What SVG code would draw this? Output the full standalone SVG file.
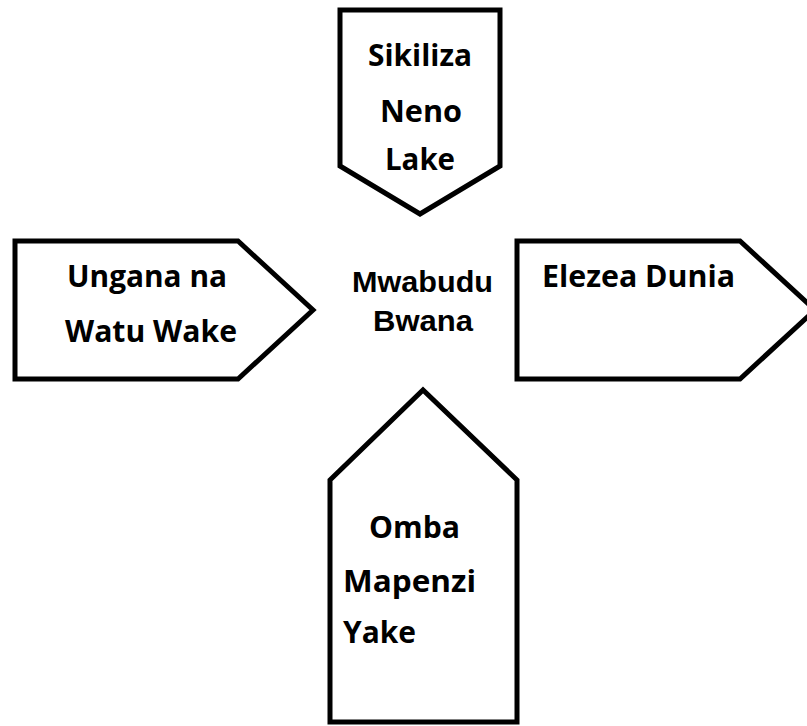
<svg xmlns="http://www.w3.org/2000/svg" width="807" height="726" viewBox="0 0 807 726">
  <style>
    .shape { fill: #ffffff; stroke: #000000; stroke-width: 5; stroke-linejoin: miter; }
    .lbl { font-family: "Open Sans", "Noto Sans", "Liberation Sans", sans-serif; font-weight: bold; font-size: 31px; fill: #000000; }
    .ctr { font-family: "Liberation Sans", Arial, sans-serif; font-weight: bold; font-size: 30px; fill: #000000; }
  </style>
  <rect x="0" y="0" width="807" height="726" fill="#ffffff"/>

  <g id="node-sikiliza">
    <polygon class="shape" points="340,10 500,10 500,166 420,214 340,166"/>
    <text class="lbl" x="368" y="66" textLength="104" lengthAdjust="spacingAndGlyphs">Sikiliza</text>
    <text class="lbl" x="380" y="122" textLength="82" lengthAdjust="spacingAndGlyphs">Neno</text>
    <text class="lbl" x="385" y="170" textLength="70" lengthAdjust="spacingAndGlyphs">Lake</text>
  </g>

  <g id="node-ungana">
    <polygon class="shape" points="15,241 238,241 313,310 238,379 15,379"/>
    <text class="lbl" x="67" y="287" textLength="160" lengthAdjust="spacingAndGlyphs">Ungana na</text>
    <text class="lbl" x="65" y="342" textLength="172" lengthAdjust="spacingAndGlyphs">Watu Wake</text>
  </g>

  <g id="node-elezea">
    <polygon class="shape" points="517,241 740,241 815,310 740,379 517,379"/>
    <text class="lbl" x="542" y="287" textLength="193" lengthAdjust="spacingAndGlyphs">Elezea Dunia</text>
  </g>

  <g id="node-omba">
    <polygon class="shape" points="330,480 423,390 517,480 517,722 330,722"/>
    <text class="lbl" x="369" y="538" textLength="91" lengthAdjust="spacingAndGlyphs">Omba</text>
    <text class="lbl" x="343" y="592" textLength="133" lengthAdjust="spacingAndGlyphs">Mapenzi</text>
    <text class="lbl" x="343" y="643" textLength="73" lengthAdjust="spacingAndGlyphs">Yake</text>
  </g>

  <g id="node-mwabudu">
    <text class="ctr" x="352" y="292" textLength="141" lengthAdjust="spacingAndGlyphs">Mwabudu</text>
    <text class="ctr" x="373" y="331" textLength="100" lengthAdjust="spacingAndGlyphs">Bwana</text>
  </g>

  <g id="connectors"></g>
</svg>
